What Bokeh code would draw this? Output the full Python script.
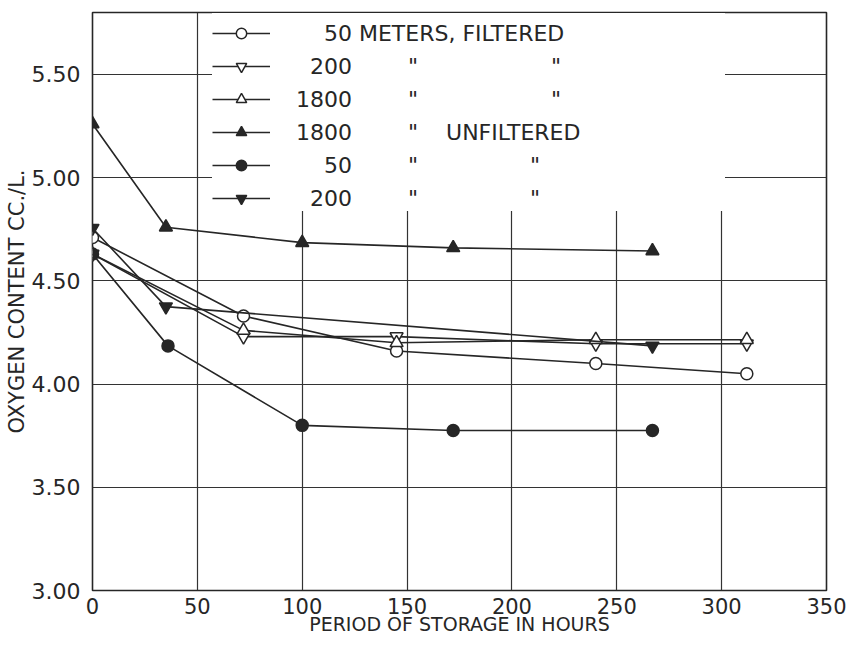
from bokeh.plotting import figure
from bokeh.models import (FixedTicker, Legend, LegendItem, Range1d,
                          PrintfTickFormatter)
from bokeh.embed import file_html
from bokeh.resources import INLINE

# ---------------- data ----------------
x_ticks = [0, 50, 100, 150, 200, 250, 300, 350]
y_ticks = [3.0, 3.5, 4.0, 4.5, 5.0, 5.5]

hours_50_filt = [0, 72, 145, 240, 312]
oxy_50_filt = [4.71, 4.33, 4.16, 4.10, 4.05]

hours_200_filt = [0, 72, 145, 240, 312]
oxy_200_filt = [4.63, 4.23, 4.23, 4.195, 4.195]

hours_1800_filt = [0, 72, 145, 240, 312]
oxy_1800_filt = [4.63, 4.26, 4.20, 4.215, 4.215]

hours_1800_unf = [0, 35, 100, 172, 267]
oxy_1800_unf = [5.26, 4.76, 4.685, 4.66, 4.645]

hours_50_unf = [0, 36, 100, 172, 267]
oxy_50_unf = [4.63, 4.185, 3.80, 3.775, 3.775]

hours_200_unf = [0, 35, 267]
oxy_200_unf = [4.755, 4.375, 4.185]

FS = "\u2007"  # figure space (digit width)
legend_labels = [
    FS + FS + "50 METERS, FILTERED" + FS * 11 + " ",
    FS + "200" + " " * 8 + '"' + " " * 19 + '"',
    "1800" + " " * 8 + '"' + " " * 19 + '"',
    "1800" + " " * 8 + '"' + " " * 4 + "UNFILTERED",
    FS + FS + "50" + " " * 8 + '"' + " " * 16 + '"',
    FS + "200" + " " * 8 + '"' + " " * 16 + '"',
]

series = [
    (hours_50_filt, oxy_50_filt, "circle", False),
    (hours_200_filt, oxy_200_filt, "inverted_triangle", False),
    (hours_1800_filt, oxy_1800_filt, "triangle", False),
    (hours_1800_unf, oxy_1800_unf, "triangle", True),
    (hours_50_unf, oxy_50_unf, "circle", True),
    (hours_200_unf, oxy_200_unf, "inverted_triangle", True),
]

INK = "#262626"
FONT = "DejaVu Sans"

p = figure(width=846, height=637,
           x_range=Range1d(0, 350), y_range=Range1d(3.0, 5.8),
           output_backend="svg", toolbar_location=None,
           min_border_left=92, min_border_top=12,
           min_border_right=20, min_border_bottom=44)

p.background_fill_color = "white"
p.border_fill_color = "white"
p.outline_line_color = INK
p.outline_line_width = 1.6

# grid
p.xgrid.ticker = FixedTicker(ticks=x_ticks)
p.ygrid.ticker = FixedTicker(ticks=y_ticks)
for g in (p.xgrid, p.ygrid):
    g.grid_line_color = "#333333"
    g.grid_line_width = 1.2
    g.grid_line_alpha = 1.0

# axes
p.xaxis.ticker = FixedTicker(ticks=x_ticks)
p.yaxis.ticker = FixedTicker(ticks=y_ticks)
p.yaxis.formatter = PrintfTickFormatter(format="%.2f")
for ax in (p.xaxis, p.yaxis):
    ax.axis_line_color = None
    ax.major_tick_line_color = None
    ax.minor_tick_line_color = None
    ax.major_label_text_font = FONT
    ax.major_label_text_font_size = "22px"
    ax.major_label_text_color = INK
    ax.axis_label_text_font = FONT
    ax.axis_label_text_font_style = "normal"
    ax.axis_label_text_color = INK
p.xaxis.major_label_text_font_size = "21px"
p.xaxis.major_label_standoff = 1
p.yaxis.major_label_standoff = 6
p.xaxis.axis_label = "PERIOD OF STORAGE IN HOURS"
p.xaxis.axis_label_text_font_size = "19px"
p.xaxis.axis_label_standoff = -4
p.yaxis.axis_label = "OXYGEN CONTENT CC./L."
p.yaxis.axis_label_text_font_size = "21px"
p.yaxis.axis_label_standoff = 0

items = []
for (xs, ys, marker, filled), lab in zip(series, legend_labels):
    r_line = p.line(xs, ys, line_color=INK, line_width=1.6)
    r_pts = p.scatter(xs, ys, marker=marker, size=13 if marker != "circle" else 12,
                      line_color=INK, line_width=1.5,
                      fill_color=INK if filled else "white")
    items.append(LegendItem(label=lab, renderers=[r_line, r_pts]))

legend = Legend(items=items, location=(120, 379), margin=0, padding=0,
                spacing=7, glyph_width=58, glyph_height=26, label_height=26,
                label_standoff=26, label_text_font=FONT,
                label_text_font_size="22px", label_text_color=INK,
                title=" ", title_text_font_size="6px", title_standoff=1,
                background_fill_color="white", background_fill_alpha=1.0,
                border_line_color=None)
p.add_layout(legend)

open("out.html", "w").write(file_html(p, INLINE))
